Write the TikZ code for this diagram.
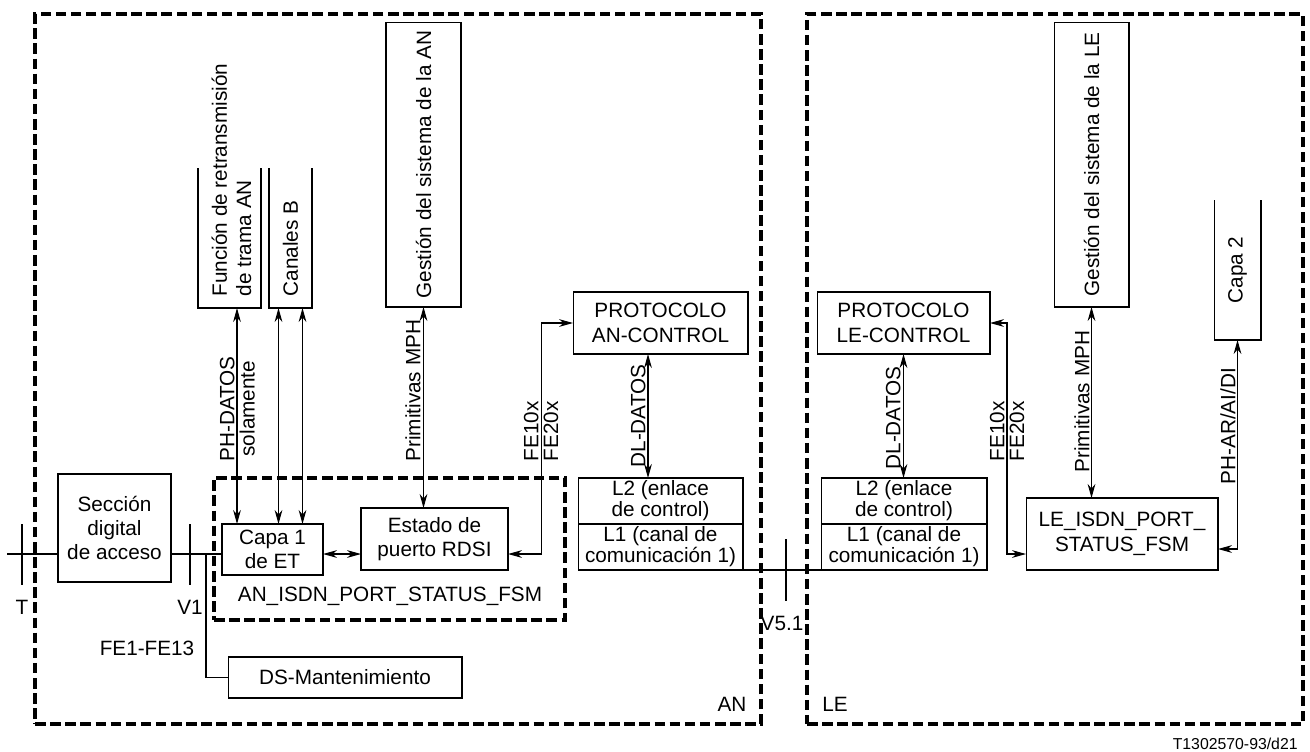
\documentclass[tikz,border=0pt]{standalone}
\usepackage{fontspec}
\setmainfont{Liberation Sans}
\usepackage{tikz}
\usetikzlibrary{positioning,arrows.meta,calc}

\begin{document}
\begin{tikzpicture}[
        x = 0.02cm, y = -0.02cm,
        font = \fontsize{11.8pt}{13.9pt}\selectfont,
        line width = 0.6pt,
        >={Stealth[length=8pt,width=4.4pt]}
    ]
    \tikzstyle{box} = [draw=black, inner sep=0pt, outer sep=0pt, align=center];
    \tikzstyle{openbox} = [inner sep=0pt, outer sep=0pt];
    \tikzstyle{region} = [draw=black, line width=1.9pt, dash pattern=on 6pt off 2.6pt, inner sep=0pt];
    \tikzstyle{vtext} = [rotate=90, inner sep=0pt, align=left];
    \tikzstyle{lbox} = [box, minimum height=0.92cm, font=\fontsize{11.8pt}{12pt}\selectfont];
    \useasboundingbox (0,0) rectangle (1310,751);

    \node [region, minimum width=14.52cm, minimum height=14.2cm] (an) at (398,369) {};
    \node [region, minimum width=9.92cm, minimum height=14.2cm] (le) at (1055,369) {};
    \node (ean) at (732,704) {AN};
    \node (ele) at (835,704) {LE};

    \node [openbox, minimum width=1.26cm, minimum height=2.8cm] (fun) at (229.5,238) {};
    \draw (fun.north west) |- (fun.south east) -- (fun.north east);
    \node [vtext, anchor=west] (efun) at (231.5,297) {Función de retransmisión\\de trama AN};
    \node [openbox, minimum width=0.86cm, minimum height=2.8cm] (canb) at (290.5,238) {};
    \draw (canb.north west) |- (canb.south east) -- (canb.north east);
    \node [vtext, anchor=west] (ecanb) at (290.5,297) {Canales B};
    \node [box, rotate=90, minimum width=5.7cm, minimum height=1.5cm] (gan) at (423.5,164.5) {Gestión del sistema de la AN};
    \node [box, minimum width=3.5cm, minimum height=1.24cm] (pan) at (660.5,323) {PROTOCOLO\\AN-CONTROL};
    \node [lbox, minimum width=3.3cm] (l2an) at (660.5,501) {L2 (enlace\\de control)};
    \node [lbox, minimum width=3.3cm, below=0pt of l2an] (l1an) {L1 (canal de\\comunicación 1)};

    \node [region, minimum width=7.02cm, minimum height=2.84cm] (fsm) at (389.5,549) {};
    \node (efsm) at (390,596) {AN\_ISDN\_PORT\_STATUS\_FSM};
    \node [box, minimum width=2.02cm, minimum height=1.02cm] (capa1) at (272.5,549.5) {Capa 1\\de ET};
    \node [box, minimum width=2.94cm, minimum height=1.24cm] (est) at (434.5,539) {Estado de\\puerto RDSI};
    \node [box, minimum width=2.26cm, minimum height=2.16cm] (sec) at (114.5,528) {Sección\\digital\\de acceso};
    \node [box, minimum width=4.68cm, minimum height=0.82cm] (dsm) at (345,677.5) {DS-Mantenimiento};

    \node [box, minimum width=3.46cm, minimum height=1.24cm] (ple) at (903.5,323) {PROTOCOLO\\LE-CONTROL};
    \node [lbox, minimum width=3.32cm] (l2le) at (904,501) {L2 (enlace\\de control)};
    \node [lbox, minimum width=3.32cm, below=0pt of l2le] (l1le) {L1 (canal de\\comunicación 1)};
    \node [box, rotate=90, minimum width=5.7cm, minimum height=1.5cm] (gle) at (1091.5,164.5) {Gestión del sistema de la LE};
    \node [openbox, minimum width=0.94cm, minimum height=2.8cm] (capa2) at (1237.5,270) {};
    \draw (capa2.north west) |- (capa2.south east) -- (capa2.north east);
    \node [vtext] (ecapa2) at (capa2) {Capa 2};
    \node [box, minimum width=3.84cm, minimum height=1.44cm] (lefsm) at (1122,534) {LE\_ISDN\_PORT\_\\STATUS\_FSM};

    \coordinate (bus) at (7,554);
    \coordinate (tap) at (206,554);
    \draw (bus) -- (sec.west |- bus);
    \draw (sec.east |- bus) -- (capa1.west |- bus);
    \draw (tap) |- (dsm.west);
    \draw (22,524) -- (22,585);
    \draw (190,524) -- (190,585);
    \node (eT) at (22,607) {T};
    \node (eV1) at (190,607) {V1};
    \node (efe) at (147,648) {FE1-FE13};
    \draw (l1an.south east) -- (l1le.south west);
    \draw (786,539) -- (786,601);
    \node (ev5) at (782,623) {V5.1};

    \draw [<->] ($(fun.south)+(7.5,0)$) coordinate (f1) -- (f1 |- capa1.north);
    \draw [<->] ($(canb.south)+(-12,0)$) coordinate (c1) -- (c1 |- capa1.north);
    \draw [<->] ($(canb.south)+(12,0)$) coordinate (c2) -- (c2 |- capa1.north);
    \draw [<->] (gan.west) -- (gan.west |- est.north);
    \draw [<->] (capa1.east |- bus) -- (est.west |- bus);
    \draw [<->] (pan.west) -- ++(-32,0) |- (est.east |- bus);
    \draw [<->] ($(pan.south)+(-12.5,0)$) coordinate (d1) -- (d1 |- l2an.north);
    \draw [<->] (ple.south) -- (ple.south |- l2le.north);
    \draw [<->] (ple.east) -- ++(17,0) |- (lefsm.west |- bus);
    \draw [<->] (gle.west) -- (gle.west |- lefsm.north);
    \draw [<->] (capa2.south) |- ($(lefsm.east)+(0,15)$);

    \node [vtext, anchor=south west] (eph) at (235,462) {PH-DATOS};
    \node [vtext, anchor=north west] (esol) at (239,457) {solamente};
    \node [vtext, anchor=south west] (empa) at (421,462) {Primitivas MPH};
    \node [vtext, anchor=south west] (efe1a) at (539,462) {FE10x};
    \node [vtext, anchor=north west] (efe2a) at (543,462) {FE20x};
    \node [vtext, anchor=south west] (edla) at (646,468) {DL-DATOS};
    \node [vtext, anchor=south west] (edle) at (901,470) {DL-DATOS};
    \node [vtext, anchor=south west] (efe1l) at (1005,462) {FE10x};
    \node [vtext, anchor=north west] (efe2l) at (1009,462) {FE20x};
    \node [vtext, anchor=south west] (empl) at (1090,473) {Primitivas MPH};
    \node [vtext, anchor=south west] (ephl) at (1236,485) {PH-AR/AI/DI};
    \node [anchor=east, font=\fontsize{9pt}{11pt}\selectfont] (eref) at (1304,744) {T1302570-93/d21};
\end{tikzpicture}
\end{document}
